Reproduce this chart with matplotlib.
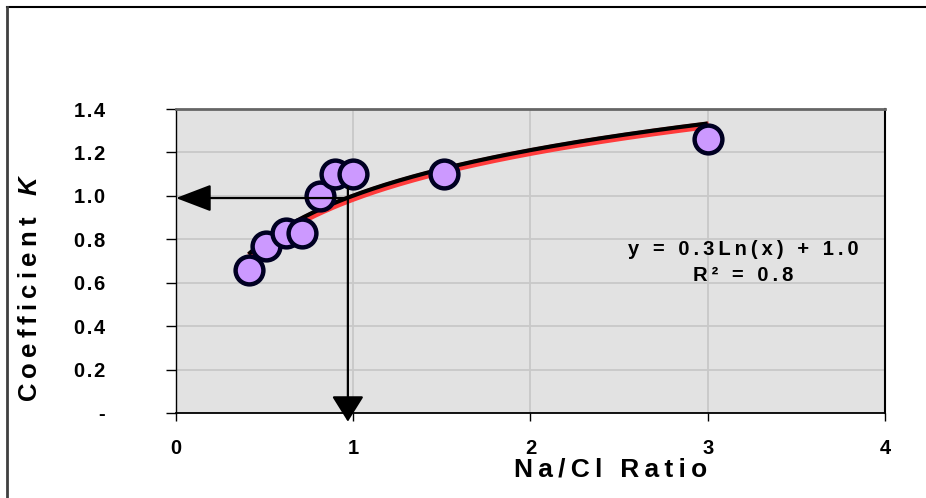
import matplotlib
matplotlib.use("Agg")
import matplotlib.pyplot as plt
import matplotlib.patheffects as pe
import numpy as np
from matplotlib.lines import Line2D

plt.rcParams["font.family"] = ["Liberation Sans", "DejaVu Sans"]
plt.rcParams["font.weight"] = "bold"
plt.rcParams["mathtext.fontset"] = "custom"
plt.rcParams["mathtext.bfit"] = "Liberation Sans:bold:italic"

# data
na_cl_ratio = [0.41, 0.51, 0.62, 0.71, 0.81, 0.90, 1.00, 1.51, 3.00]
coef_k = [0.66, 0.77, 0.83, 0.83, 1.00, 1.10, 1.10, 1.10, 1.26]
y_ticks = [0.0, 0.2, 0.4, 0.6, 0.8, 1.0, 1.2, 1.4]
x_ticks = [0, 1, 2, 3, 4]
read_x = 0.97   # ratio where the arrows read the curve
read_y = 0.99

THIN = "\u2009"
HAIR = "\u200a"


def spaced(s, sep=THIN):
    # the original chart uses wide letter spacing
    return sep.join(s)


# log trend line fitted to the points
lx = np.log(na_cl_ratio)
a, b = np.polyfit(lx, coef_k, 1)
pred = a * lx + b
r2 = 1 - np.sum((np.array(coef_k) - pred) ** 2) / np.sum((np.array(coef_k) - np.mean(coef_k)) ** 2)
xt = np.linspace(min(na_cl_ratio), max(na_cl_ratio), 200)
yt = a * np.log(xt) + b

fig = plt.figure(figsize=(9.26, 4.98), dpi=100, facecolor="white")
ax = fig.add_axes([0.190, 0.1707, 0.7657, 0.6104])
ax.set_facecolor("#e2e2e2")

ax.set_xlim(0, 4)
ax.set_ylim(0, 1.4)
ax.set_xticks(x_ticks)
ax.set_yticks(y_ticks)
ax.set_xticklabels([str(t) for t in x_ticks])
ax.set_yticklabels(["-"] + [spaced(f"{t:.1f}", HAIR) for t in y_ticks[1:]])
ax.grid(True, color="#c8c8c8", linewidth=1.3)
ax.set_axisbelow(True)
ax.tick_params(axis="y", direction="out", length=7, width=1, pad=44, labelsize=14.5)
ax.tick_params(axis="x", direction="out", length=6, width=1, pad=13, labelsize=14.5)
for lab in ax.get_xticklabels() + ax.get_yticklabels():
    lab.set_fontweight("bold")

ax.spines["top"].set_color("#666666")
ax.spines["top"].set_linewidth(2)
ax.spines["right"].set_color("black")
ax.spines["right"].set_linewidth(1.5)
ax.spines["left"].set_linewidth(1)
ax.spines["bottom"].set_linewidth(1.3)

ax.plot(xt, yt, color="black", lw=3, zorder=3, solid_capstyle="butt",
        path_effects=[pe.Stroke(linewidth=5.5, foreground="#ff3b3b", offset=(0.8, -1.3)), pe.Normal()])

ax.plot(na_cl_ratio, coef_k, linestyle="none", marker="o", markersize=20,
        markerfacecolor="#cc99ff", markeredgecolor="#000022", markeredgewidth=3.2, zorder=4)

# reading arrows
ax.annotate("", xy=(0.0, read_y), xytext=(read_x, read_y), annotation_clip=False,
            arrowprops=dict(arrowstyle="-|>,head_length=1.1,head_width=0.42", mutation_scale=20,
                            color="black", lw=1.6, shrinkA=0, shrinkB=0), zorder=5)
ax.annotate("", xy=(read_x, -0.04), xytext=(read_x, 1.04), annotation_clip=False,
            arrowprops=dict(arrowstyle="-|>,head_length=0.8,head_width=0.5", mutation_scale=20,
                            color="black", lw=1.6, shrinkA=0, shrinkB=0), zorder=5)

ax.text(3.2, 0.755, spaced(f"y = {a:.1f}Ln(x) + {b:.1f}", THIN), ha="center", va="center",
        fontsize=14.5, fontweight="bold")
ax.text(3.2, 0.635, spaced(f"R² = {r2:.1f}", THIN), ha="center", va="center",
        fontsize=14.5, fontweight="bold")

fig.text(611 / 926, 1 - 469 / 498, spaced("Na/Cl Ratio", THIN), ha="center", va="center",
         fontsize=19, fontweight="bold")
fig.text(30 / 926, 1 - 288 / 498, spaced("Coefficient", THIN) + "   $\\mathbfit{K}$",
         rotation=90, ha="center", va="center", fontsize=18.5, fontweight="bold")

# outer frame of the chart area
fig.add_artist(Line2D([7 / 926, 1], [1 - 7 / 498, 1 - 7 / 498], transform=fig.transFigure,
                      color="black", lw=1.5))
fig.add_artist(Line2D([7 / 926, 7 / 926], [0, 1 - 7 / 498], transform=fig.transFigure,
                      color="#404040", lw=2))

fig.savefig("out.png", dpi=100, facecolor="white")
